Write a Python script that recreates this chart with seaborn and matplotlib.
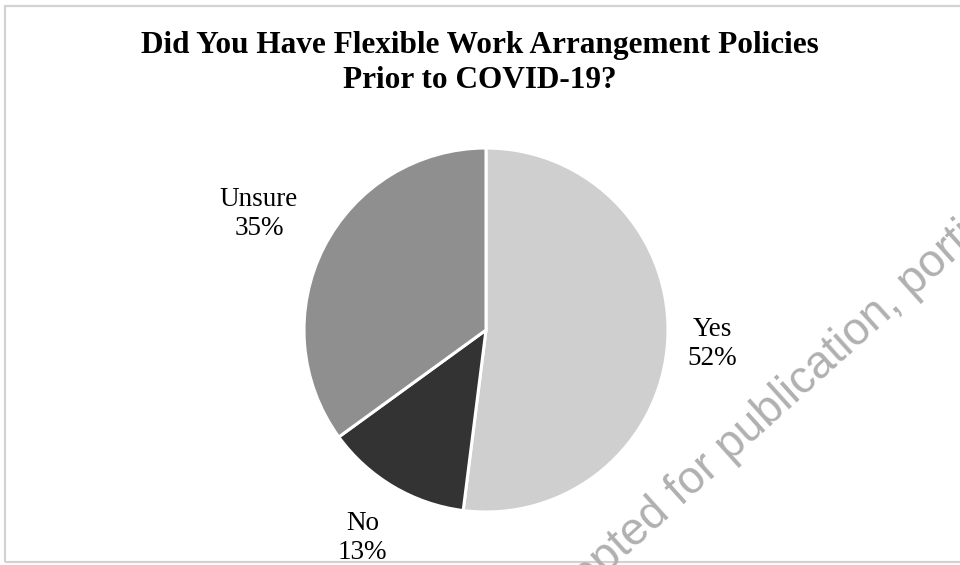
import numpy as np
import matplotlib
matplotlib.use("Agg")
import matplotlib.pyplot as plt
import seaborn as sns
from matplotlib.patches import Rectangle

# data
categories = ["Yes", "No", "Unsure"]
shares = [52, 13, 35]
colors = ["#cfcfcf", "#333333", "#8f8f8f"]
label_dist = [1.245, 1.33, 1.40]
title = "Did You Have Flexible Work Arrangement Policies\nPrior to COVID-19?"
watermark_a = "Accepted "
watermark_b = "for publication, portions"

sns.set_style("white")
plt.rcParams["font.family"] = ["Liberation Serif", "DejaVu Serif"]
plt.rcParams["text.color"] = "black"

W, H = 960, 565
fig = plt.figure(figsize=(W / 100, H / 100), dpi=100)

# pie axes: centre (486, 330) px, radius 182 px
cx, cy, r = 486, 330, 182
ax = fig.add_axes([(cx - r) / W, (H - cy - r) / H, 2 * r / W, 2 * r / H])
wedges, _ = ax.pie(shares, colors=colors, startangle=90, counterclock=False,
                   wedgeprops=dict(edgecolor="white", linewidth=2.2))
ax.set_xlim(-1, 1)
ax.set_ylim(-1, 1)
ax.set_aspect("equal")
ax.axis("off")

# category labels
for w, cat, val, d in zip(wedges, categories, shares, label_dist):
    ang = np.deg2rad((w.theta1 + w.theta2) / 2)
    ax.text(d * np.cos(ang), d * np.sin(ang), f"{cat}\n{val}%",
            ha="center", va="center", fontsize=19.5, linespacing=1.22,
            color="black", clip_on=False)

fig.text(0.5, (H - 63) / H, title, ha="center", va="center",
         fontsize=22.5, fontweight="bold", linespacing=1.25, color="black")

# faint frame
fig.add_artist(Rectangle((5 / W, 3 / H), 1.1, (H - 9) / H,
                         transform=fig.transFigure, fill=False,
                         edgecolor="#d2d2d2", linewidth=1.6))

# watermark
wx, wy = 681 / W, (H - 507) / H
for txt, ha in [(watermark_a, "right"), (watermark_b, "left")]:
    fig.text(wx, wy, txt, ha=ha, va="baseline", rotation=42,
             rotation_mode="anchor", fontsize=33, color="#b0b0b0",
             family=["Liberation Sans", "DejaVu Sans"])

fig.savefig("out.png", dpi=100)
